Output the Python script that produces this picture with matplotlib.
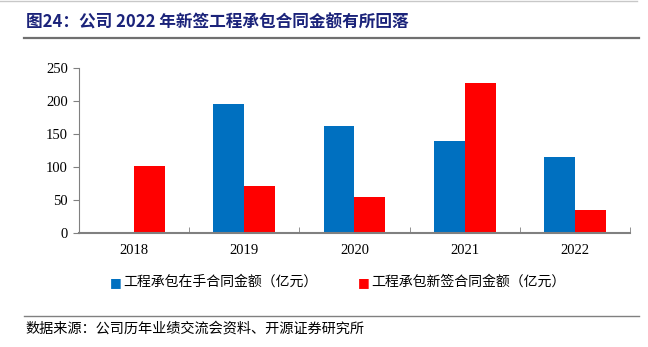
import matplotlib.pyplot as plt
import numpy as np
from matplotlib.lines import Line2D

plt.rcParams['font.family'] = ['Liberation Serif', 'Noto Sans CJK SC']

years = ['2018', '2019', '2020', '2021', '2022']
backlog = [0, 196, 162, 139, 115]       # 工程承包在手合同金额（亿元）
new_signed = [102, 71, 54, 228, 35]      # 工程承包新签合同金额（亿元）

blue = '#0070C0'
red = '#FF0000'

fig = plt.figure(figsize=(6.48, 3.47), dpi=100)
ax = fig.add_axes([0.1219, 0.3285, 0.8503, 0.4755])

x = np.arange(len(years))
w = 0.28
ax.bar(x - w / 2, backlog, w, color=blue)
ax.bar(x + w / 2, new_signed, w, color=red)

ax.set_xlim(-0.5, len(years) - 0.5)
ax.set_ylim(0, 250)
ax.set_yticks([0, 50, 100, 150, 200, 250])
ax.set_xticks(x)
ax.set_xticklabels(years)
ax.set_xticks(np.arange(len(years) + 1) - 0.5, minor=True)
ax.tick_params(axis='x', which='major', length=0, pad=8, labelsize=10.5)
ax.tick_params(axis='x', which='minor', direction='in', length=4, color='#808080')
ax.tick_params(axis='y', length=4, color='#808080', labelsize=10.5, pad=4)

ax.spines[['right', 'top']].set_visible(False)
ax.spines['left'].set_color('#808080')
ax.spines['bottom'].set_color('#808080')
ax.spines['bottom'].set_linewidth(1.5)

# legend
fig.text(0.179, 0.187, '■', color=blue, fontsize=9, va='center', ha='center',
         family=['DejaVu Sans'])
fig.text(0.190, 0.187, '工程承包在手合同金额（亿元）', fontsize=10, va='center',
         family=['Noto Sans CJK SC'])
fig.text(0.561, 0.187, '■', color=red, fontsize=9, va='center', ha='center',
         family=['DejaVu Sans'])
fig.text(0.5725, 0.187, '工程承包新签合同金额（亿元）', fontsize=10, va='center',
         family=['Noto Sans CJK SC'])

# header and footer
fig.add_artist(Line2D([0.0, 0.983], [0.997, 0.997], color='#C8C8C8', lw=1.0))
fig.text(0.040, 0.934, '图24：公司 2022 年新签工程承包合同金额有所回落', fontsize=12,
         fontweight='bold', color='#1B237A', va='center',
         family=['Noto Sans CJK SC'])
fig.add_artist(Line2D([0.037, 0.986], [0.890, 0.890], color='#707070', lw=1.6))
fig.add_artist(Line2D([0.037, 0.986], [0.089, 0.089], color='#808080', lw=1.0))
fig.text(0.040, 0.052, '数据来源：公司历年业绩交流会资料、开源证券研究所', fontsize=10.2,
         va='center', family=['Noto Sans CJK SC'])

fig.savefig('out.png', dpi=100)
